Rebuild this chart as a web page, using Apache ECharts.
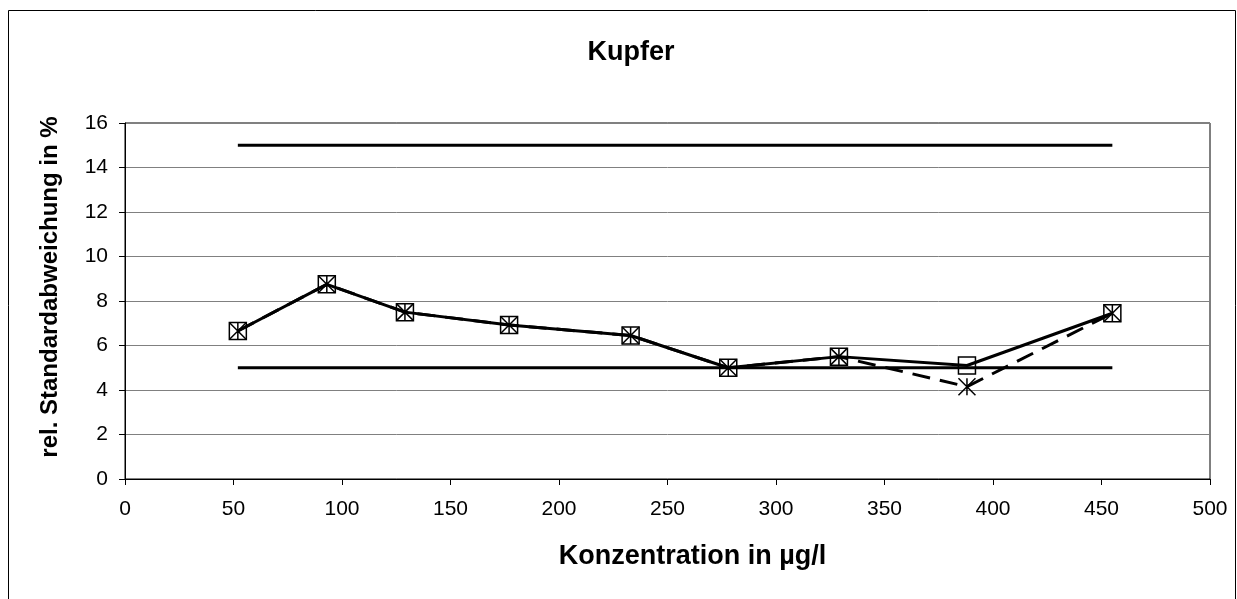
<!DOCTYPE html>
<html>
<head>
<meta charset="utf-8">
<script src="https://cdn.jsdelivr.net/npm/echarts@6/dist/echarts.min.js"></script>
<style>
  html, body { margin: 0; padding: 0; background: #fff; }
  #chart { width: 1237px; height: 599px; }
</style>
</head>
<body>
<div id="chart"></div>
<script>
// Konzentration in µg/l
const concentrations = [52, 93, 129, 177, 233, 278, 329, 388, 455];
// rel. Standardabweichung in % (squares, solid line)
const rsdSquares = [6.65, 8.75, 7.5, 6.92, 6.45, 5.0, 5.5, 5.1, 7.45];
// rel. Standardabweichung in % (stars, dashed line)
const rsdStars = [6.65, 8.75, 7.5, 6.92, 6.45, 5.0, 5.5, 4.15, 7.45];
// limit lines
const limitRange = [52, 455];
const upperLimit = 15;
const lowerLimit = 5;

function pairs(xs, ys) {
    return xs.map((x, i) => [x, ys[i]]);
}

const starPath = 'path://M0,0L10,10M10,0L0,10M5,0L5,10';
const font = 'Liberation Sans, Arial';

const chartDom = document.getElementById('chart');
const myChart = echarts.init(chartDom);
const option = {
    animation: false,
    backgroundColor: '#fff',
    title: {
        text: 'Kupfer',
        left: 626,
        top: 34,
        textAlign: 'center',
        textStyle: { fontFamily: font, fontSize: 27, fontWeight: 'bold', color: '#000' }
    },
    graphic: [{
        type: 'rect',
        shape: { x: 8.5, y: 10.5, width: 1227, height: 620 },
        style: { fill: 'none', stroke: '#000', lineWidth: 1 },
        silent: true
    }],
    grid: {
        left: 125,
        right: 27,
        top: 123,
        bottom: 120,
        show: true,
        borderColor: '#000',
        borderWidth: 1
    },
    xAxis: {
        type: 'value',
        min: 0,
        max: 500,
        interval: 50,
        name: 'Konzentration in µg/l',
        nameLocation: 'middle',
        nameGap: 64,
        nameTextStyle: { fontFamily: font, fontSize: 27, fontWeight: 'bold', color: '#000', padding: [0, 0, 0, 50] },
        axisLine: { lineStyle: { color: '#000', width: 1 } },
        axisTick: { show: true, length: 6, lineStyle: { color: '#000' } },
        axisLabel: { fontFamily: font, fontSize: 21, color: '#000', margin: 20 },
        splitLine: { show: false }
    },
    yAxis: {
        type: 'value',
        min: 0,
        max: 16,
        interval: 2,
        name: 'rel. Standardabweichung in %',
        nameLocation: 'middle',
        nameGap: 63,
        nameTextStyle: { fontFamily: font, fontSize: 24, fontWeight: 'bold', color: '#000', padding: [0, 0, 0, 28] },
        axisLine: { show: true, lineStyle: { color: '#000', width: 1 } },
        axisTick: { show: true, length: 6, lineStyle: { color: '#000' } },
        axisLabel: { fontFamily: font, fontSize: 21, color: '#000', margin: 17 },
        splitLine: { show: true, lineStyle: { color: '#808080', width: 1 } }
    },
    series: [
        {
            name: 'obere Grenze',
            type: 'line',
            data: pairs(limitRange, [upperLimit, upperLimit]),
            symbol: 'none',
            lineStyle: { color: '#000', width: 3 }
        },
        {
            name: 'untere Grenze',
            type: 'line',
            data: pairs(limitRange, [lowerLimit, lowerLimit]),
            symbol: 'none',
            lineStyle: { color: '#000', width: 3 }
        },
        {
            name: 'Sterne',
            type: 'line',
            data: pairs(concentrations, rsdStars),
            symbol: starPath,
            symbolSize: 17,
            itemStyle: { color: 'transparent', borderColor: '#000', borderWidth: 1.5 },
            lineStyle: { color: '#000', width: 3, type: [18, 10] }
        },
        {
            name: 'Quadrate',
            type: 'line',
            data: pairs(concentrations, rsdSquares),
            symbol: 'rect',
            symbolSize: 17,
            itemStyle: { color: 'transparent', borderColor: '#000', borderWidth: 1.5 },
            lineStyle: { color: '#000', width: 3 }
        }
    ]
};
myChart.setOption(option);
</script>
</body>
</html>
